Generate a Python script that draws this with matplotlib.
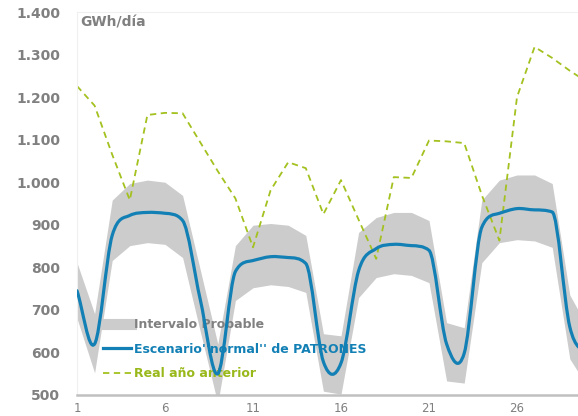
import numpy as np
import matplotlib
matplotlib.use("Agg")
import matplotlib.pyplot as plt
from matplotlib.path import Path
from matplotlib.patches import PathPatch
from matplotlib.lines import Line2D
from matplotlib.ticker import FuncFormatter

# daily values (GWh/día)
days = list(range(1, 31))
normal = [745, 620, 875, 922, 929, 927, 910, 725, 550, 790,
          816, 825, 823, 809, 578, 575, 792, 844, 854, 851,
          840, 620, 598, 894, 927, 938, 935, 930, 660, 590]
upper = [811, 691, 958, 997, 1005, 1000, 969, 795, 620, 851,
         899, 903, 899, 875, 644, 639, 882, 917, 929, 929,
         910, 670, 658, 958, 1005, 1017, 1017, 997, 735, 660]
lower = [680, 552, 816, 851, 858, 854, 823, 650, 480, 722,
         752, 759, 755, 741, 509, 502, 729, 776, 785, 781,
         764, 533, 528, 811, 858, 865, 862, 847, 585, 520]
real = [1226, 1180, 1065, 958, 1158, 1163, 1162, 1094, 1026, 962,
        847, 981, 1047, 1033, 925, 1005, 912, 820, 1012, 1010,
        1098, 1096, 1092, 970, 863, 1200, 1318, 1292, 1262, 1235]
xticks = [1, 6, 11, 16, 21, 26]
yticks = list(range(500, 1401, 100))

GREY = "#808080"
BAND = "#cccccc"
BLUE = "#1380b5"
GREEN = "#a3c11f"


def smooth_path(x, y):
    # bezier through the points (catmull-rom, tangents limited on monotone stretches)
    n = len(x)
    m = [y[1] - y[0]] + [(y[k+1] - y[k-1]) / 2 for k in range(1, n - 1)] + [y[-1] - y[-2]]
    for k in range(n - 1):
        d = y[k+1] - y[k]
        if d == 0:
            continue
        a, b = m[k] / d, m[k+1] / d
        if a > 0 and b > 0 and a * a + b * b > 9:
            t = 3 / np.hypot(a, b)
            m[k] *= t
            m[k+1] *= t
    verts = [(x[0], y[0])]
    codes = [Path.MOVETO]
    for k in range(n - 1):
        h = (x[k+1] - x[k]) / 3
        verts += [(x[k] + h, y[k] + m[k] * h), (x[k+1] - h, y[k+1] - m[k+1] * h), (x[k+1], y[k+1])]
        codes += [Path.CURVE4] * 3
    return Path(verts, codes)


fig = plt.figure(figsize=(5.78, 4.16), dpi=100)
ax = fig.add_axes([77/578, 21/416, 528/578, 383/416])

ax.fill_between(days, lower, upper, color=BAND, lw=0, zorder=1)
ax.plot(days, real, color=GREEN, lw=1.3, ls=(0, (3.5, 2.5)), zorder=2)
ax.add_patch(PathPatch(smooth_path(days, normal), fill=False, edgecolor=BLUE,
                       lw=2.3, capstyle="round", joinstyle="round", zorder=3))

ax.set_xlim(1, 31)
ax.set_ylim(500, 1400)
ax.set_xticks(xticks)
ax.set_yticks(yticks)
ax.yaxis.set_major_formatter(FuncFormatter(lambda v, p: f"{int(v):,}".replace(",", ".")))
ax.tick_params(axis="y", length=0, pad=12, labelsize=10, labelcolor=GREY)
ax.tick_params(axis="x", length=0, pad=5, labelsize=8.5, labelcolor=GREY)
for lbl in ax.get_yticklabels():
    lbl.set_fontweight("bold")

for s in ["left", "top", "right"]:
    ax.spines[s].set_color("#f0f0f0")
    ax.spines[s].set_linewidth(0.8)
ax.spines["bottom"].set_color("#c0c0c0")
ax.spines["bottom"].set_linewidth(1.8)

handles = [Line2D([], [], color=BAND, lw=8),
           Line2D([], [], color=BLUE, lw=2.3),
           Line2D([], [], color=GREEN, lw=1.3, ls=(0, (3.5, 2.5)))]
labels = ["Intervalo Probable", "Escenario''normal'' de PATRONES", "Real año anterior"]
leg = ax.legend(handles, labels, loc="upper left", bbox_to_anchor=(103/578, 1 - 318/416),
                bbox_transform=fig.transFigure, frameon=False, borderpad=0, borderaxespad=0,
                handlelength=2.2, handletextpad=0.3, labelspacing=0.93,
                prop=dict(size=9, weight="bold"))
leg.set_zorder(1.5)
for txt, c in zip(leg.get_texts(), [GREY, BLUE, "#99b81a"]):
    txt.set_color(c)

fig.text(80/578, 1 - 23/416, "GWh/día", fontsize=10, fontweight="bold", color=GREY, va="center")

fig.savefig("out.png", dpi=100)
